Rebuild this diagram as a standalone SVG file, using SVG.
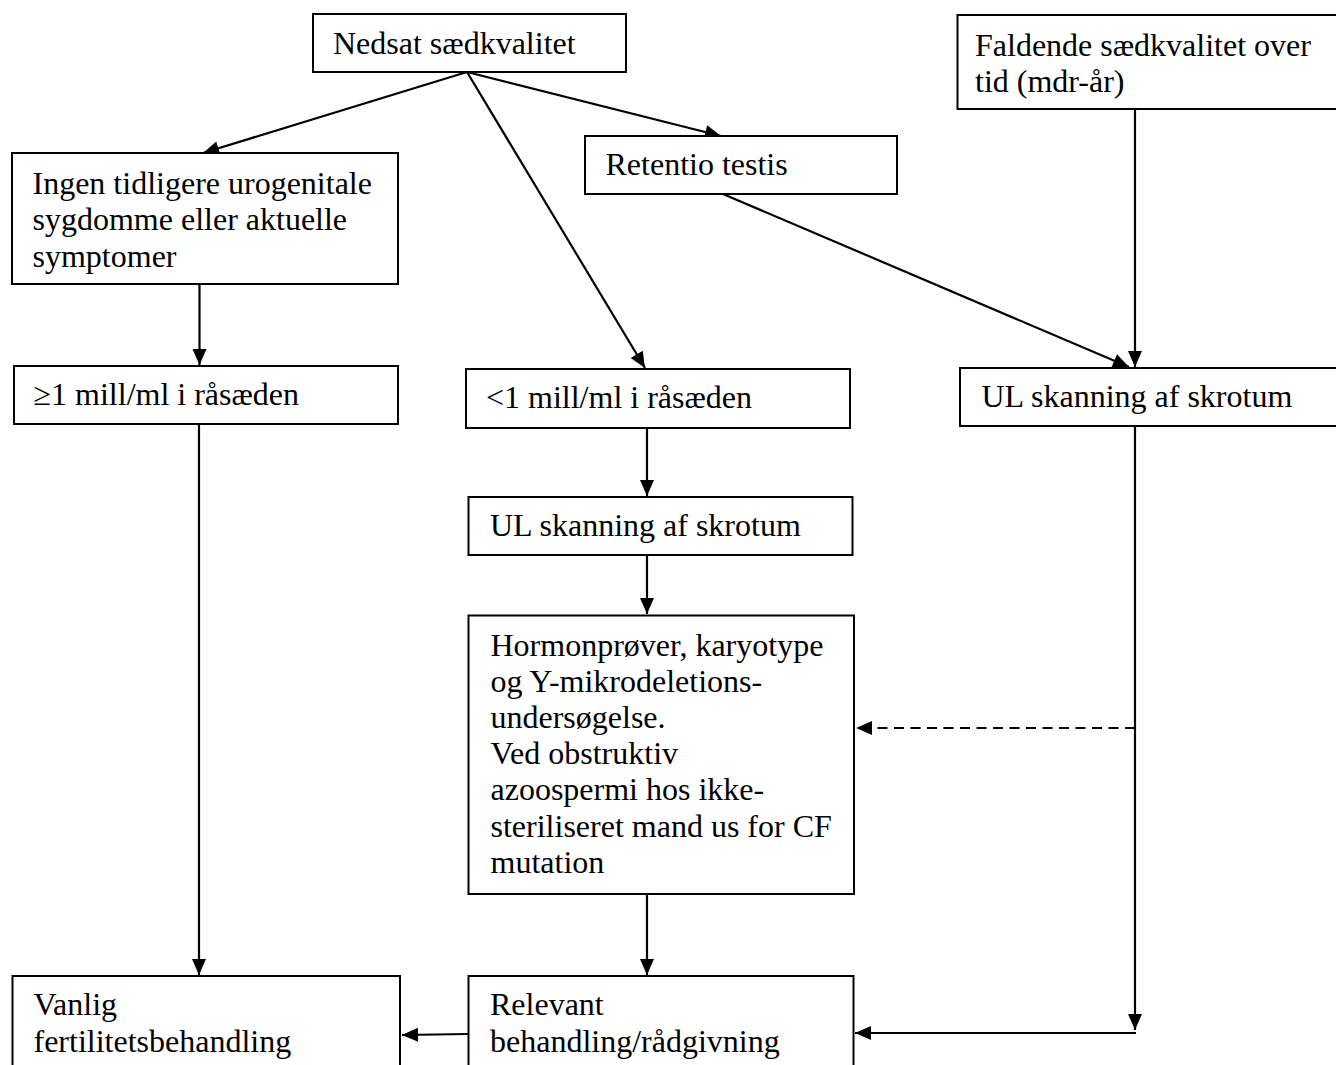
<svg xmlns="http://www.w3.org/2000/svg" width="1336" height="1065" viewBox="0 0 1336 1065">
<style>
.box{fill:#fff;stroke:#000;stroke-width:2}
.t{font-family:"Liberation Serif","Times New Roman",serif;font-size:32px;fill:#000}
.c{stroke:#000;stroke-width:2.2;fill:none}
.d{stroke:#000;stroke-width:2.2;fill:none;stroke-dasharray:10 6.5}
</style>
<defs>
<marker id="ah" markerUnits="userSpaceOnUse" markerWidth="18" markerHeight="16" refX="16" refY="7" orient="auto" overflow="visible">
<path d="M0,0 L16,7 L0,14 z" fill="#000"/>
</marker>
</defs>
<rect width="1336" height="1065" fill="#fff"/>
<g id="connectors">
<line class="c" x1="467" y1="72" x2="203" y2="153" marker-end="url(#ah)"/>
<line class="c" x1="467" y1="72" x2="645" y2="368" marker-end="url(#ah)"/>
<line class="c" x1="467" y1="72" x2="721" y2="136" marker-end="url(#ah)"/>
<line class="c" x1="723" y1="194" x2="1129" y2="367" marker-end="url(#ah)"/>
<line class="c" x1="1135" y1="109" x2="1135" y2="367" marker-end="url(#ah)"/>
<line class="c" x1="199.5" y1="284" x2="199.5" y2="365" marker-end="url(#ah)"/>
<line class="c" x1="199" y1="424" x2="199" y2="975" marker-end="url(#ah)"/>
<line class="c" x1="647" y1="428" x2="647" y2="496" marker-end="url(#ah)"/>
<line class="c" x1="647" y1="555" x2="647" y2="614" marker-end="url(#ah)"/>
<line class="c" x1="647" y1="894" x2="647" y2="975" marker-end="url(#ah)"/>
<line class="d" x1="1135" y1="728" x2="856" y2="728" marker-end="url(#ah)"/>
<line class="c" x1="1135" y1="426" x2="1135" y2="1030" marker-end="url(#ah)"/>
<line class="c" x1="1136" y1="1033" x2="855" y2="1033" marker-end="url(#ah)"/>
<line class="c" x1="468" y1="1034" x2="402" y2="1035" marker-end="url(#ah)"/>
</g>
<g id="n1"><rect class="box" x="313" y="14" width="313" height="58"/><text class="t" x="333" y="53.5">Nedsat sædkvalitet</text></g>
<g id="n2"><rect class="box" x="957.5" y="15" width="390" height="94"/><text class="t" x="975" y="56">Faldende sædkvalitet over</text><text class="t" x="975" y="92">tid (mdr-år)</text></g>
<g id="n3"><rect class="box" x="12" y="153" width="386" height="131"/><text class="t" x="32.5" y="193.5">Ingen tidligere urogenitale</text><text class="t" x="32.5" y="230">sygdomme eller aktuelle</text><text class="t" x="32.5" y="266.5">symptomer</text></g>
<g id="n4"><rect class="box" x="585" y="136" width="312" height="58"/><text class="t" x="605.5" y="175">Retentio testis</text></g>
<g id="n5"><rect class="box" x="14" y="366" width="384" height="58"/><text class="t" x="33.5" y="405">≥1 mill/ml i råsæden</text></g>
<g id="n6"><rect class="box" x="466" y="369" width="384" height="59"/><text class="t" x="486" y="408">&lt;1 mill/ml i råsæden</text></g>
<g id="n7"><rect class="box" x="960" y="368" width="390" height="58"/><text class="t" x="981.5" y="407">UL skanning af skrotum</text></g>
<g id="n8"><rect class="box" x="468.5" y="497" width="384" height="58"/><text class="t" x="490" y="536">UL skanning af skrotum</text></g>
<g id="n9"><rect class="box" x="468.5" y="615.5" width="385.5" height="278.5"/>
<text class="t" x="490.5" y="655.5">Hormonprøver, karyotype</text>
<text class="t" x="490.5" y="691.7">og Y-mikrodeletions-</text>
<text class="t" x="490.5" y="727.9">undersøgelse.</text>
<text class="t" x="490.5" y="764.1">Ved obstruktiv</text>
<text class="t" x="490.5" y="800.3">azoospermi hos ikke-</text>
<text class="t" x="490.5" y="836.5">steriliseret mand us for CF</text>
<text class="t" x="490.5" y="872.7">mutation</text></g>
<g id="n10"><rect class="box" x="12.5" y="976" width="387.5" height="110"/><text class="t" x="33.5" y="1015">Vanlig</text><text class="t" x="33.5" y="1051.5">fertilitetsbehandling</text></g>
<g id="n11"><rect class="box" x="468.5" y="976" width="385" height="110"/><text class="t" x="490" y="1015">Relevant</text><text class="t" x="490" y="1051.5">behandling/rådgivning</text></g>
</svg>
